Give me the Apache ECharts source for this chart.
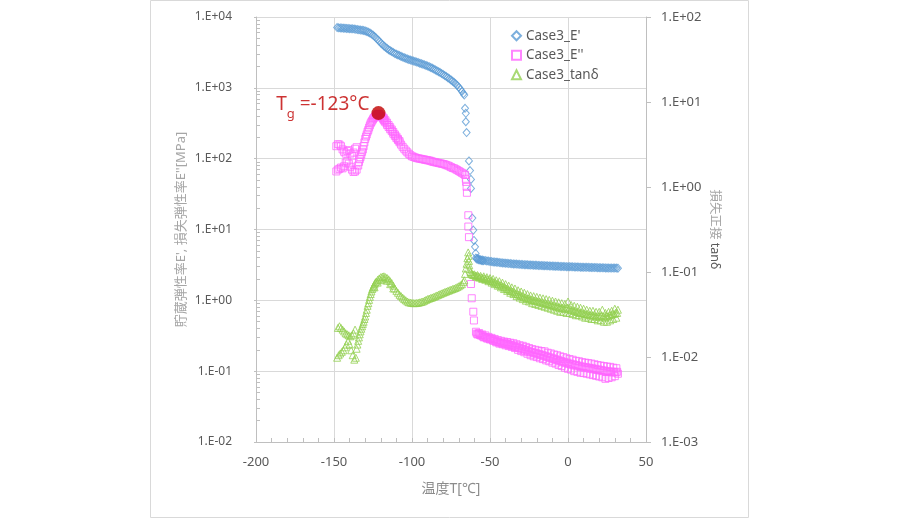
<!DOCTYPE html>
<html><head><meta charset="utf-8">
<script src="https://cdn.jsdelivr.net/npm/echarts@6/dist/echarts.min.js"></script>
<style>html,body{margin:0;padding:0;background:#fff}#c{width:900px;height:519px}</style>
</head><body><div id="c"></div>
<script>
const FONT = "'Noto Sans', 'Noto Sans CJK JP', sans-serif";
const seriesNames = ["Case3_E'", "Case3_E''", "Case3_tanδ"];
const xTitle = '温度T[℃]';
const leftTitle = "貯蔵弾性率E', 損失弾性率E''[MPa]";
const rightTitleJa = '損失正接';
const rightTitleEn = 'tanδ';
const tgLabel = ' =-123°C';
const tgPoint = [[-121.5, 440]];

// E' storage modulus [MPa] : [T, value]
const ePrime = [
[-148,7100],[-147,7050],[-146,7000],[-145,7000],[-144,6950],[-143,6950],[-142,6900],[-141,6900],[-140,6850],[-139,6800],
[-138,6800],[-137,6750],[-136,6700],[-135,6650],[-134,6600],[-133,6550],[-132,6500],[-131,6450],[-130,6350],[-129,6250],
[-128,6100],[-127,5950],[-126,5750],[-125,5550],[-124,5300],[-123,5050],[-122,4800],[-121,4550],[-120,4300],[-119,4100],
[-118,3900],[-117,3750],[-116,3600],[-115,3450],[-114,3350],[-113,3250],[-112,3150],[-111,3050],[-110,2980],[-109,2910],
[-108,2850],[-107,2780],[-106,2720],[-105,2660],[-104,2610],[-103,2560],[-102,2510],[-101,2470],[-100,2430],[-99,2390],
[-98,2350],[-97,2310],[-96,2270],[-95,2230],[-94,2190],[-93,2150],[-92,2110],[-91,2070],[-90,2030],[-89,1990],
[-88,1940],[-87,1890],[-86,1840],[-85,1790],[-84,1740],[-83,1690],[-82,1640],[-81,1590],[-80,1540],[-79,1490],
[-78,1440],[-77,1390],[-76,1340],[-75,1290],[-74,1240],[-73,1190],[-72,1140],[-71,1080],[-70,1020],[-69,960],
[-68,890],[-67,830],[-66.5,790],
[-66,514],[-65.5,437],[-65.5,332],[-65,234],[-63.5,93],[-62.8,68],[-62.2,51],[-62.2,38],[-61.3,14.5],[-60.7,9.8],
[-60.3,7],[-59.6,5.7],[-59.2,4.6],
[-59,3.95],[-58.5,3.82],[-58,3.88],[-57.5,3.74],[-57,3.8],[-56.5,3.7],[-56,3.74],[-55.5,3.66],[-55,3.72],[-54.5,3.62],
[-54,3.66],[-53,3.64],[-52,3.6],[-51,3.58],[-50,3.54],[-49,3.53],[-48,3.49],[-47,3.48],[-46,3.45],[-45,3.44],
[-44,3.41],[-43,3.4],[-42,3.37],[-41,3.36],[-40,3.34],[-39,3.33],[-38,3.31],[-37,3.3],[-36,3.28],[-35,3.27],
[-34,3.25],[-33,3.25],[-32,3.23],[-31,3.22],[-30,3.21],[-29,3.2],[-28,3.19],[-27,3.18],[-26,3.17],[-25,3.16],
[-24,3.15],[-23,3.15],[-22,3.13],[-21,3.13],[-20,3.12],[-19,3.11],[-18,3.1],[-17,3.1],[-16,3.09],[-15,3.08],
[-14,3.07],[-13,3.07],[-12,3.06],[-11,3.05],[-10,3.05],[-9,3.04],[-8,3.03],[-7,3.03],[-6,3.02],[-5,3.01],
[-4,3.01],[-3,3.0],[-2,3.0],[-1,2.99],[0,2.98],[1,2.98],[2,2.97],[3,2.97],[4,2.96],[5,2.96],
[6,2.95],[7,2.95],[8,2.94],[9,2.94],[10,2.93],[11,2.93],[12,2.92],[13,2.92],[14,2.91],[15,2.91],
[16,2.9],[17,2.9],[18,2.9],[19,2.89],[20,2.89],[21,2.88],[22,2.88],[23,2.88],[24,2.87],[25,2.87],
[26,2.86],[27,2.86],[28,2.86],[29,2.85],[30,2.85],[31,2.85],[32,2.84]
];

// E'' loss modulus [MPa] : [T, value]
const eDouble = [
[-148.5,150],[-147.5,160],[-146.5,158],[-145.5,150],[-144.5,135],[-143.5,125],[-142.5,118],[-141.5,128],[-140.5,132],[-139.5,118],
[-138.5,110],[-137.5,122],[-136.5,138],[-135.5,145],
[-148.5,66],[-147.5,70],[-146.5,72],[-145.5,75],[-144.5,73],[-143.5,78],[-142.5,88],[-141.5,92],[-140.5,85],[-139.5,77],
[-138.5,70],[-137.5,65],[-136.5,66],[-135.5,70],[-134.5,80],[-134,90],[-133.5,98],
[-133,105],[-132.5,115],[-132,125],[-131.5,135],[-131,150],[-130.5,170],[-130,190],[-129.5,205],[-129,220],[-128.5,240],
[-128,255],[-127.5,275],[-127,295],[-126.5,315],[-126,330],[-125.5,345],[-125,360],[-124.5,375],[-124,385],[-123.5,395],
[-123,405],[-122.5,415],[-122,425],[-121.5,430],[-121,425],[-120.5,410],[-120,400],[-119.5,390],[-119,378],[-118.5,365],
[-118,350],[-117.5,338],[-117,325],[-116,300],[-115,280],[-114,260],[-113,245],[-112,225],[-111,210],[-110,195],
[-109,183],[-108,170],[-107,158],[-106,147],[-105,138],[-104,130],[-103,123],[-102,117],[-101,112],[-100,108],
[-119,395],[-118,372],[-117,348],[-116,322],[-115,298],[-114,278],[-113,258],[-112,238],[-111,220],[-110,205],[-109,190],[-108,177],
[-99,106],[-98,104],[-97,102],[-96,101],[-95,100],[-94,99],[-93,98],[-92,97],[-91,96],[-90,95],
[-89,94],[-88,93],[-87,91],[-86,90],[-85,89],[-84,88],[-83,87],[-82,86],[-81,85],[-80,84],
[-79,83],[-78,81],[-77,80],[-76,78],[-75,76],[-74,74],[-73,73],[-72,71],[-71,69],[-70,67],
[-69,65],[-68,63],[-67,61],[-66,59],
[-65.5,52],[-65.3,47],[-65,40],[-64.8,33],[-63.9,15.9],[-63.9,11],[-63.5,7.8],[-62.2,1.7],[-61.7,1.07],[-60.7,0.69],[-60.3,0.52],
[-59,0.36],[-58,0.33],[-57,0.345],[-56,0.32],[-55,0.33],[-54,0.30],[-53,0.32],[-52,0.29],[-51,0.305],[-50,0.28],
[-49,0.295],[-48,0.27],[-47,0.285],[-46,0.255],[-45,0.275],[-44,0.245],[-43,0.268],[-42,0.24],[-41,0.262],[-40,0.232],
[-39,0.258],[-38,0.226],[-37,0.252],[-36,0.22],[-35,0.248],[-34,0.212],[-33,0.24],[-32,0.2],[-31,0.232],[-30,0.192],
[-29,0.228],[-28,0.185],[-27,0.22],[-26,0.176],[-25,0.212],[-24,0.168],[-23,0.205],[-22,0.162],[-21,0.2],[-20,0.158],
[-19,0.196],[-18,0.152],[-17,0.192],[-16,0.148],[-15,0.19],[-14,0.142],[-13,0.182],[-12,0.138],[-11,0.178],[-10,0.132],
[-9,0.172],[-8,0.128],[-7,0.168],[-6,0.122],[-5,0.162],[-4,0.118],[-3,0.158],[-2,0.112],[-1,0.152],[0,0.108],
[1,0.148],[2,0.105],[3,0.145],[4,0.1],[5,0.14],[6,0.098],[7,0.138],[8,0.095],[9,0.134],[10,0.094],
[11,0.132],[12,0.092],[13,0.13],[14,0.09],[15,0.128],[16,0.088],[17,0.125],[18,0.086],[19,0.122],[20,0.084],
[21,0.12],[22,0.082],[23,0.118],[24,0.078],[25,0.116],[26,0.08],[27,0.115],[28,0.082],[29,0.112],[30,0.085],
[31,0.11],[32,0.092],
[-58.5,0.34],[-57.5,0.335],[-56.5,0.325],[-55.5,0.32],[-54.5,0.31],[-53.5,0.305],[-52.5,0.3],[-51.5,0.29],[-50.5,0.292],[-49.5,0.284],
[-48.5,0.28],[-47.5,0.27],[-46.5,0.268],[-45.5,0.26],[-44.5,0.258],[-43.5,0.252],[-42.5,0.252],[-41.5,0.246],[-40.5,0.248],[-39.5,0.24],
[-38.5,0.242],[-37.5,0.234],[-36.5,0.236],[-35.5,0.228],[-34.5,0.23],[-33.5,0.22],[-32.5,0.222],[-31.5,0.212],[-30.5,0.214],[-29.5,0.204],
[-28.5,0.206],[-27.5,0.196],[-26.5,0.198],[-25.5,0.19],[-24.5,0.19],[-23.5,0.184],[-22.5,0.185],[-21.5,0.178],[-20.5,0.18],[-19.5,0.172],
[-18.5,0.175],[-17.5,0.168],[-16.5,0.17],[-15.5,0.163],[-14.5,0.165],[-13.5,0.158],[-12.5,0.16],[-11.5,0.153],[-10.5,0.155],[-9.5,0.148],
[-8.5,0.15],[-7.5,0.143],[-6.5,0.145],[-5.5,0.138],[-4.5,0.14],[-3.5,0.134],[-2.5,0.136],[-1.5,0.13],[-0.5,0.132],[0.5,0.126],
[1.5,0.128],[2.5,0.123],[3.5,0.125],[4.5,0.12],[5.5,0.122],[6.5,0.117],[7.5,0.119],[8.5,0.114],[9.5,0.116],[10.5,0.112],
[11.5,0.114],[12.5,0.11],[13.5,0.112],[14.5,0.108],[15.5,0.11],[16.5,0.106],[17.5,0.108],[18.5,0.104],[19.5,0.106],[20.5,0.102],
[21.5,0.104],[22.5,0.1],[23.5,0.102],[24.5,0.098],[25.5,0.1],[26.5,0.097],[27.5,0.099],[28.5,0.096],[29.5,0.098],[30.5,0.096],[31.5,0.098]
];

// tanδ : [T, value]
const tanDelta = [
[-147.5,0.022],[-146.5,0.023],[-145.5,0.022],[-144.5,0.021],[-143.5,0.02],[-142.5,0.019],[-141.5,0.0185],[-140.5,0.018],[-139.5,0.0175],[-138.5,0.018],
[-137.5,0.019],[-136.5,0.021],
[-148,0.0098],[-147,0.0105],[-146,0.011],[-145,0.0115],[-144,0.012],[-143,0.013],[-142,0.014],[-141,0.0155],[-140,0.014],[-139,0.012],
[-138,0.0105],[-137,0.0093],[-136,0.0098],
[-135.5,0.0125],[-135,0.014],[-134.5,0.0155],[-134,0.017],[-133.5,0.0185],[-133,0.02],[-132.5,0.0215],[-132,0.023],[-131.5,0.0245],[-131,0.026],
[-130.5,0.028],[-130,0.03],[-129.5,0.033],[-129,0.036],[-128.5,0.04],[-128,0.043],[-127.5,0.047],[-127,0.051],[-126.5,0.055],[-126,0.059],
[-125.5,0.063],[-125,0.066],[-124.5,0.069],[-124,0.072],[-123.5,0.075],[-123,0.077],[-122,0.081],[-121,0.084],[-120,0.087],[-119,0.088],
[-118,0.089],[-117,0.087],[-116,0.085],[-115,0.082],[-114,0.078],[-113,0.074],[-112,0.069],[-111,0.064],[-110,0.06],[-109,0.057],
[-124,0.066],[-122,0.075],[-120,0.08],[-118,0.082],[-116,0.079],[-114,0.072],[-112,0.064],
[-108,0.054],[-107,0.052],[-106,0.05],[-105,0.048],[-104,0.0465],[-103,0.045],[-102,0.044],[-101,0.0437],[-100,0.0433],[-99,0.043],
[-98,0.043],[-97,0.0432],[-96,0.0435],[-95,0.044],[-94,0.0445],[-93,0.045],[-92,0.046],[-91,0.047],[-90,0.048],[-89,0.0487],
[-88,0.0495],[-87,0.0502],[-86,0.051],[-85,0.052],[-84,0.053],[-83,0.054],[-82,0.055],[-81,0.056],[-80,0.057],[-79,0.058],
[-78,0.059],[-77,0.06],[-76,0.061],[-75,0.062],[-74,0.063],[-73,0.064],[-72,0.065],[-71,0.0665],[-70,0.068],[-69,0.07],
[-68,0.072],[-67,0.076],[-66.5,0.08],
[-66,0.095],[-65.5,0.11],[-65,0.125],[-64.5,0.145],[-64,0.17],[-63.7,0.155],[-63.5,0.135],[-63.3,0.12],[-63,0.108],[-62.5,0.1],
[-62,0.096],[-61.5,0.094],[-61,0.093],[-60.5,0.092],
[-60,0.094],[-59,0.088],[-58,0.092],[-57,0.086],[-56,0.09],[-55,0.083],[-54,0.089],[-53,0.081],[-52,0.087],[-51,0.078],
[-50,0.085],[-49,0.075],[-48,0.083],[-47,0.072],[-46,0.08],[-45,0.069],[-44,0.078],[-43,0.066],[-42,0.075],[-41,0.063],
[-40,0.072],[-39,0.06],[-38,0.069],[-37,0.057],[-36,0.066],[-35,0.055],[-34,0.064],[-33,0.052],[-32,0.061],[-31,0.05],
[-30,0.059],[-29,0.048],[-28,0.057],[-27,0.046],[-26,0.055],[-25,0.045],[-24,0.053],[-23,0.043],[-22,0.052],[-21,0.042],
[-20,0.051],[-19,0.041],[-18,0.05],[-17,0.04],[-16,0.049],[-15,0.039],[-14,0.048],[-13,0.038],[-12,0.047],[-11,0.037],
[-10,0.046],[-9,0.036],[-8,0.045],[-7,0.035],[-6,0.044],[-5,0.034],[-4,0.043],[-3,0.034],[-2,0.042],[-1,0.033],
[0,0.045],[1,0.033],[2,0.041],[3,0.032],[4,0.04],[5,0.031],[6,0.039],[7,0.031],[8,0.038],[9,0.03],
[10,0.037],[11,0.029],[12,0.036],[13,0.029],[14,0.035],[15,0.028],[16,0.035],[17,0.028],[18,0.034],[19,0.027],
[20,0.034],[21,0.027],[22,0.036],[23,0.026],[24,0.033],[25,0.026],[26,0.034],[27,0.027],[28,0.035],[29,0.028],
[30,0.037],[31,0.029],[32,0.036],
[-59.5,0.091],[-58.5,0.09],[-57.5,0.089],[-56.5,0.087],[-55.5,0.086],[-54.5,0.085],[-53.5,0.084],[-52.5,0.083],[-51.5,0.082],[-50.5,0.081],
[-49.5,0.079],[-48.5,0.078],[-47.5,0.076],[-46.5,0.075],[-45.5,0.073],[-44.5,0.072],[-43.5,0.07],[-42.5,0.069],[-41.5,0.067],[-40.5,0.066],
[-39.5,0.064],[-38.5,0.063],[-37.5,0.061],[-36.5,0.06],[-35.5,0.059],[-34.5,0.058],[-33.5,0.056],[-32.5,0.055],[-31.5,0.054],[-30.5,0.053],
[-29.5,0.052],[-28.5,0.051],[-27.5,0.05],[-26.5,0.049],[-25.5,0.049],[-24.5,0.048],[-23.5,0.047],[-22.5,0.047],[-21.5,0.046],[-20.5,0.046],
[-19.5,0.045],[-18.5,0.045],[-17.5,0.044],[-16.5,0.044],[-15.5,0.043],[-14.5,0.043],[-13.5,0.042],[-12.5,0.042],[-11.5,0.041],[-10.5,0.041],
[-9.5,0.04],[-8.5,0.04],[-7.5,0.039],[-6.5,0.039],[-5.5,0.038],[-4.5,0.038],[-3.5,0.038],[-2.5,0.037],[-1.5,0.037],[-0.5,0.038],
[0.5,0.037],[1.5,0.036],[2.5,0.036],[3.5,0.035],[4.5,0.035],[5.5,0.034],[6.5,0.034],[7.5,0.033],[8.5,0.033],[9.5,0.033],
[10.5,0.032],[11.5,0.032],[12.5,0.032],[13.5,0.031],[14.5,0.031],[15.5,0.031],[16.5,0.031],[17.5,0.03],[18.5,0.03],[19.5,0.03],
[20.5,0.03],[21.5,0.031],[22.5,0.03],[23.5,0.029],[24.5,0.03],[25.5,0.03],[26.5,0.031],[27.5,0.031],[28.5,0.032],[29.5,0.032],
[30.5,0.033],[31.5,0.033]
];

// log-spaced minor tick positions (exponent space) for the left axis
const leftMinorExp = [];
for (let e = -2; e < 4; e++) for (let m = 2; m <= 9; m++) leftMinorExp.push(e + Math.log10(m));

function expFmt(v) {
  const e = Math.round(Math.log10(v));
  return '1.E' + (e >= 0 ? '+' : '-') + String(Math.abs(e)).padStart(2, '0');
}

const chart = echarts.init(document.getElementById('c'), null, {renderer: 'canvas'});
const AXIS = '#bfbfbf', GRID = '#d9d9d9', LBL = '#595959';
chart.setOption({
  animation: false,
  textStyle: {fontFamily: FONT},
  graphic: [{type: 'rect', shape: {x: 150.5, y: 0.5, width: 598, height: 517}, style: {fill: 'none', stroke: '#d9d9d9', lineWidth: 1}, silent: true}],
  grid: {left: 256, right: 254, top: 17, bottom: 77},
  legend: {
    orient: 'vertical', left: 506, top: 24, itemGap: 6, itemWidth: 9, itemHeight: 9,
    data: seriesNames,
    textStyle: {fontSize: 13.5, color: LBL, fontFamily: FONT}
  },
  xAxis: {
    type: 'value', min: -200, max: 50, interval: 50,
    name: xTitle, nameLocation: 'middle', nameGap: 40,
    nameTextStyle: {fontSize: 14, color: '#8c8c8c', fontFamily: FONT},
    axisLine: {onZero: false, lineStyle: {color: AXIS}},
    axisTick: {show: true, inside: true, length: 4, lineStyle: {color: AXIS}},
    minorTick: {show: true, splitNumber: 5, length: 4, lineStyle: {color: AXIS}},
    axisLabel: {fontSize: 13, color: LBL, margin: 14, fontFamily: FONT},
    splitLine: {show: true, lineStyle: {color: GRID}}
  },
  yAxis: [
    {
      type: 'log', logBase: 10, min: 0.01, max: 10000, position: 'left',
      name: leftTitle, nameLocation: 'middle', nameGap: 68, nameRotate: 90,
      nameTextStyle: {fontSize: 13, color: '#a6a6a6', fontFamily: FONT},
      axisLine: {show: true, onZero: false, lineStyle: {color: AXIS}},
      axisTick: {show: true, length: 2, lineStyle: {color: AXIS}},
      axisLabel: {fontSize: 12, color: LBL, margin: 24, formatter: expFmt, fontFamily: FONT},
      splitLine: {show: true, lineStyle: {color: GRID}}
    },
    {
      type: 'log', logBase: 10, min: 0.001, max: 100, position: 'right',
      name: '{a|' + rightTitleJa + '} {b|' + rightTitleEn + '}', nameLocation: 'middle', nameGap: 62, nameRotate: -90,
      nameTextStyle: {fontSize: 12.5, fontFamily: FONT, rich: {a: {color: '#a6a6a6', fontSize: 12.5, fontFamily: FONT}, b: {color: '#595959', fontSize: 12.5, fontFamily: FONT}}},
      axisLine: {show: true, onZero: false, lineStyle: {color: AXIS}},
      axisTick: {show: true, length: 5, lineStyle: {color: AXIS}},
      axisLabel: {fontSize: 13, color: LBL, margin: 15, formatter: expFmt, fontFamily: FONT},
      splitLine: {show: false}
    },
    {
      type: 'value', min: -2, max: 4, position: 'left',
      axisLine: {show: false, onZero: false},
      axisTick: {show: true, inside: true, length: 4, customValues: leftMinorExp, lineStyle: {color: AXIS}},
      axisLabel: {show: false},
      splitLine: {show: false}
    }
  ],
  series: [
    {
      name: seriesNames[0], type: 'scatter', yAxisIndex: 0, data: ePrime,
      symbol: 'diamond', symbolSize: [7, 8],
      itemStyle: {color: 'rgba(255,255,255,0)', borderColor: '#5b9bd5', borderWidth: 1}
    },
    {
      name: seriesNames[1], type: 'scatter', yAxisIndex: 0, data: eDouble,
      symbol: 'rect', symbolSize: 7,
      itemStyle: {color: 'rgba(255,255,255,0)', borderColor: '#ff66ff', borderWidth: 1}
    },
    {
      name: seriesNames[2], type: 'scatter', yAxisIndex: 1, data: tanDelta,
      symbol: 'triangle', symbolSize: 7,
      itemStyle: {color: 'rgba(255,255,255,0)', borderColor: '#92d050', borderWidth: 1}
    },
    {
      name: 'Tg', type: 'scatter', yAxisIndex: 0, data: tgPoint,
      symbol: 'circle', symbolSize: 14, z: 5,
      itemStyle: {color: '#c00000'},
      label: {
        show: true, position: 'left', distance: 2, offset: [0, -5],
        formatter: '{t|T}{s|g}{t|' + tgLabel + '}',
        rich: {
          t: {fontSize: 19, color: '#c00000', fontFamily: FONT, lineHeight: 26, verticalAlign: 'top'},
          s: {fontSize: 13, color: '#c00000', fontFamily: FONT, lineHeight: 26, verticalAlign: 'bottom'}
        }
      }
    }
  ]
});
</script></body></html>
